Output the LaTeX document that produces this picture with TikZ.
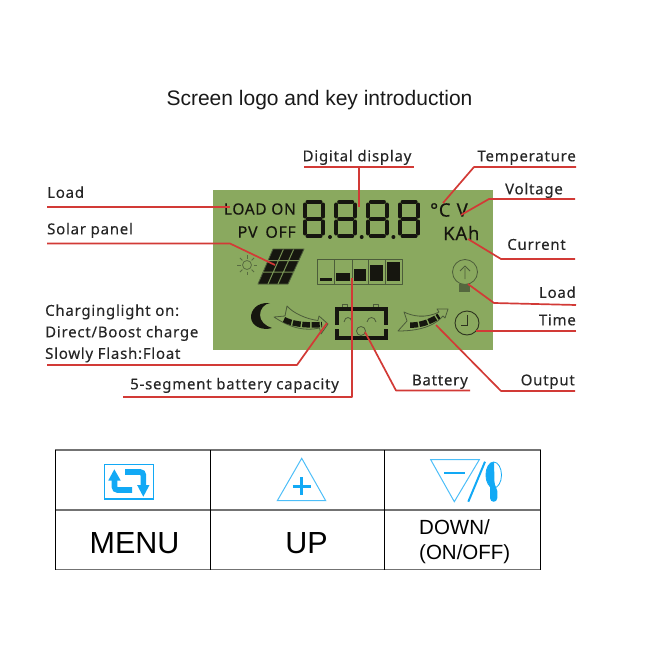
\documentclass[tikz,border=0pt]{standalone}
\usepackage{fontspec}
\setmainfont{Liberation Sans}
\newfontfamily\lblfont[LetterSpace=5,FakeBold=0.15]{Noto Sans}
\newfontfamily\lcdfont[LetterSpace=4,FakeBold=0.25]{Noto Sans}
\usetikzlibrary{arrows.meta,positioning}
\definecolor{lcdgreen}{HTML}{8AA95F}
\definecolor{lcddark}{HTML}{4C5C3A}
\definecolor{leadred}{HTML}{D23A36}
\definecolor{keyblue}{HTML}{12A9F5}
\definecolor{inkdark}{HTML}{16160F}

\begin{document}
\begin{tikzpicture}[
  x=1pt, y=-1pt,
  lbl/.style={
    font=\lblfont\fontsize{15}{21.5}\selectfont, text=black!85,
    inner sep=0pt, text depth=#1},
  lcdtxt/.style={
    font=\lcdfont\fontsize{#1}{18}\selectfont, text=inkdark, inner sep=0pt},
  lead/.style={draw=leadred, line width=1.7pt, line join=round},
  seg/.style={draw=inkdark, line width=4pt, line cap=round},
  thinlcd/.style={draw=lcddark, line width=0.8pt, line join=round},
  tabh/.style={draw=black!55, line width=1.1pt},
  tabv/.style={draw=black, line width=1pt},
  keytxt/.style={font=\fontsize{#1}{#1}\selectfont, text=black, inner sep=0pt, align=left},
  keyline/.style={draw=keyblue!75, line width=1pt, line join=miter},
]
\useasboundingbox (0,0) rectangle (663,663);

%% TITLE
\node[font=\fontsize{21}{24}\selectfont, text=black!90, inner sep=0pt] (title) at (319.5,100.5)
  {Screen logo and key introduction};

%% LCD PANEL
\node[fill=lcdgreen, minimum width=280pt, minimum height=160pt, inner sep=0pt] (lcd) at (352.7,270) {};

\node[lcdtxt=15.5, anchor=east] (loadon) at (296,209) {LOAD ON};
\node[lcdtxt=16, anchor=east] (pvoff)  at (296,232) {PV\hspace{3pt} OFF};
\node[lcdtxt=18.5, anchor=west] (degc)   at (430,210) {°C};
\node[lcdtxt=18.5, anchor=west] (volt)   at (456.5,210) {V};
\node[lcdtxt=18.5, anchor=west] (kah)    at (443,233) {KAh};

% seven segment digits
\foreach \dx in {0,31.7,63.4,95.1}{
  \begin{scope}[xshift=\dx pt]
    \draw[seg] (307.5,201.8) -- (320.5,201.8);
    \draw[seg] (307.5,219) -- (320.5,219);
    \draw[seg] (307.5,236.2) -- (320.5,236.2);
    \draw[seg] (304.7,204.5) -- (304.7,216.5);
    \draw[seg] (304.7,221.5) -- (304.7,233.5);
    \draw[seg] (323.3,204.5) -- (323.3,216.5);
    \draw[seg] (323.3,221.5) -- (323.3,233.5);
  \end{scope}
}
\foreach \dx in {0,31.7,63.4}
  \fill[inkdark] (330+\dx,237) circle (2pt);

% sun and solar panel
\draw[draw=lcddark!80!lcdgreen, line width=0.8pt] (247,265) circle (4.5pt);
\foreach \a in {0,45,...,315}
  \draw[draw=lcddark!80!lcdgreen, line width=0.8pt] (247,265) ++(\a:6.5pt) -- ++(\a:3.5pt);
\draw[thinlcd, fill=inkdark] (273,249) -- (304,249) -- (288,284) -- (258,284) -- cycle;
\draw[draw=lcdgreen!70!lcddark, line width=1pt] (283.3,249.5) -- (268,284) (293.6,249.5) -- (278,284)
  (268,260.5) -- (299,260.5) (263,272) -- (294,272);

% capacity bars
\draw[thinlcd] (317.5,259.5) rectangle (402,284);
\foreach \xa in {334,352,368,385}
  \draw[thinlcd] (\xa,259.5) -- (\xa,284);
\fill[inkdark] (320,278) rectangle (332,281);
\fill[inkdark] (336,273) rectangle (350,281);
\fill[inkdark] (354,269) rectangle (366,281);
\fill[inkdark] (369.5,265) rectangle (383,281);
\fill[inkdark] (386.5,262) rectangle (400,281);

% moon
\fill[inkdark] (270,303) .. controls (256,302) and (251,311) .. (251,317)
  .. controls (251,326) and (262,331) .. (272,328)
  .. controls (265,326) and (260,321) .. (260,315)
  .. controls (260,309) and (264,304) .. (270,303) -- cycle;

% charge arrow
\draw[thinlcd] (274,317) -- (285,316) -- (287,306) .. controls (293,313) and (306,319) .. (318,320.5)
  -- (319,316) -- (328,324) -- (321,334) -- (319.5,328)
  .. controls (306,331) and (292,329) .. (274,317) -- cycle;
\draw[draw=inkdark, line width=5.5pt, dash pattern=on 8pt off 1.5pt]
  (284,319.5) .. controls (291,323.5) and (305,326) .. (322,324.5);

% battery
\draw[seg, line cap=butt] (337,325) -- (337,309) -- (386,309) -- (386,325);
\draw[seg, line cap=butt] (337,329) -- (337,338) -- (386,338) -- (386,329);
\draw[thinlcd] (342,307) -- (342,304) -- (347,304) -- (347,307);
\draw[thinlcd] (373,307) -- (373,304) -- (378,304) -- (378,307);
\draw[thinlcd] (344,322) .. controls (345,316) and (351,316) .. (352,322);
\draw[thinlcd] (367,322) .. controls (368,316) and (375,316) .. (376,322);
\draw[thinlcd] (361,331) circle (4.5pt);

% output arrow
\draw[thinlcd] (398,331) -- (407,321) -- (404,312) .. controls (412,316) and (425,319) .. (439,312)
  -- (437,309) -- (448,309) -- (445,318) -- (443,316)
  .. controls (437,323) and (425,331) .. (398,331) -- cycle;
\draw[draw=inkdark, line width=5.5pt, dash pattern=on 8pt off 1.5pt]
  (410,325) .. controls (420,325.5) and (430,322) .. (439,316);

% bulb and clock
\draw[thinlcd] (465,272) circle (12.5pt);
\draw[thinlcd] (465,279) -- (465,268) (460,271) -- (465,266) -- (470,271);
\fill[lcddark!85!lcdgreen] (459,284) rectangle (470,292);
\draw[draw=inkdark!80!lcdgreen, line width=0.9pt] (467,323) circle (12pt);
\draw[draw=inkdark!80!lcdgreen, line width=0.9pt] (467,315) -- (467,325) -- (461,325);

%% LEFT LABELS
\coordinate (aLoadL) at (230,207);
\coordinate (aSolar) at (275,265);
\coordinate (aCharge) at (327,323);
\coordinate (aSeg) at (352,278);
\coordinate (aBatt) at (365,332);
\node[lbl=9pt, anchor=south west] (lLoadL) at (47,207) {Load};
\node[lbl=9pt, anchor=south west] (lSolar) at (47,243.5) {Solar panel};
\node[lbl=6pt, anchor=south west, align=left] (lCharge) at (45,365)
  {Charginglight on:\\Direct/Boost charge\\Slowly Flash:Float};
\node[lbl=7.5pt, anchor=south west] (lSeg) at (130,397) {5-segment battery capacity};
\node[lbl=5pt, anchor=south east] (lBatt) at (468,390.5) {Battery};

%% TOP AND RIGHT LABELS
\coordinate (aDisp) at (359,207);
\coordinate (aTemp) at (443,203);
\coordinate (aVolt) at (461,215);
\coordinate (aCurr) at (468,239);
\coordinate (aLoadR) at (468,284);
\coordinate (aTime) at (476,331);
\coordinate (aOut) at (436,325);
\node[lbl=5.5pt, anchor=south] (lDisp) at (357,167) {Digital display};
\node[lbl=5.5pt, anchor=south east] (lTemp) at (576,167) {Temperature};
\node[lbl=4.5pt, anchor=south east] (lVolt) at (563,199) {Voltage};
\node[lbl=9pt, anchor=south east] (lCurr) at (566,259) {Current};
\node[lbl=7pt, anchor=south east] (lLoadR) at (576,305) {Load};
\node[lbl=5.5pt, anchor=south east] (lTime) at (576,331) {Time};
\node[lbl=5.5pt, anchor=south east] (lOut) at (575,391) {Output};

%% LEADER LINES
\draw[lead] (lLoadL.south west) -- (aLoadL);
\draw[lead] (lSolar.south west) -- ++(183,0) -- (aSolar);
\draw[lead] ([xshift=2pt]lCharge.south west) -- ++(250,0) -- (aCharge);
\draw[lead] ([xshift=-7pt]lSeg.south west) -| (aSeg);
\draw[lead] ([xshift=2pt]lBatt.south east) -- ++(-74,0) -- (aBatt);
\draw[lead] ([xshift=2pt]lDisp.south west) -- ([xshift=2pt]lDisp.south east);
\draw[lead] (lDisp.south -| aDisp) -- (aDisp);
\draw[lead] (lTemp.south east) -- ++(-102,0) -- (aTemp);
\draw[lead] ([xshift=12pt]lVolt.south east) -- ++(-86,0) -- (aVolt);
\draw[lead] ([xshift=9pt]lCurr.south east) -- ++(-74,0) -- (aCurr);
\draw[lead] (lLoadR.south east) -- ++(-82,-2) -- (aLoadR);
\draw[lead] (lTime.south east) -- (aTime);
\draw[lead] (lOut.south east) -- ++(-74,0) -- (aOut);

%% KEY TABLE
\draw[tabh] (55,450) -- (541,450) (55,510) -- (541,510) (55,569.5) -- (541,569.5);
\foreach \xa in {55.5,210.5,384.5,540.5}
  \draw[tabv] (\xa,450) -- (\xa,569.5);

\node[keytxt=30.5] (kMenu) at (134.5,543) {MENU};
\node[keytxt=30.5] (kUp) at (306.5,543) {UP};
\node[keytxt=20.5, anchor=north west, align=left] (kDown) at (419,519.5)
  {DOWN/\\[4.5pt](ON/OFF)};

% menu key
\draw[draw=keyblue, line width=1.4pt] (104.3,464.3) rectangle (153.3,499);
\draw[draw=keyblue, line width=5.6pt, rounded corners=3pt] (114.5,480) -- (114.5,490) -- (132,490);
\fill[keyblue] (114.3,469.3) -- (120.7,480.5) -- (108.3,480.5) -- cycle;
\draw[draw=keyblue, line width=5.6pt, rounded corners=3pt] (125,472) -- (143.3,472) -- (143.3,485);
\fill[keyblue] (143.3,496.7) -- (149.5,485) -- (137.1,485) -- cycle;

% up key
\draw[keyline] (301.7,458.3) -- (325.7,500.7) -- (277.3,500.7) -- cycle;
\draw[draw=keyblue, line width=3pt] (292.7,486) -- (310.7,486) (301.7,477) -- (301.7,495);

% down and on/off key
\draw[keyline] (430.7,459.7) -- (479.3,459.7) -- (454.3,501.7) -- cycle;
\draw[draw=keyblue, line width=2.2pt] (444,473.3) -- (465,473.3);
\draw[draw=keyblue, line width=2pt] (485,461.7) -- (468.3,501.7);
\draw[draw=keyblue, line width=0.8pt] (493.7,475) ellipse (7.8pt and 13pt);
\fill[keyblue] (494,462) .. controls (488.5,462) and (486,469) .. (486,475)
  .. controls (486,481) and (488.5,484) .. (490,487) -- (490,498)
  .. controls (490,503) and (497.3,503) .. (497.3,498) -- (497.3,491)
  .. controls (497.3,488) and (494.5,486) .. (494.5,482) -- cycle;

\end{tikzpicture}
\end{document}
